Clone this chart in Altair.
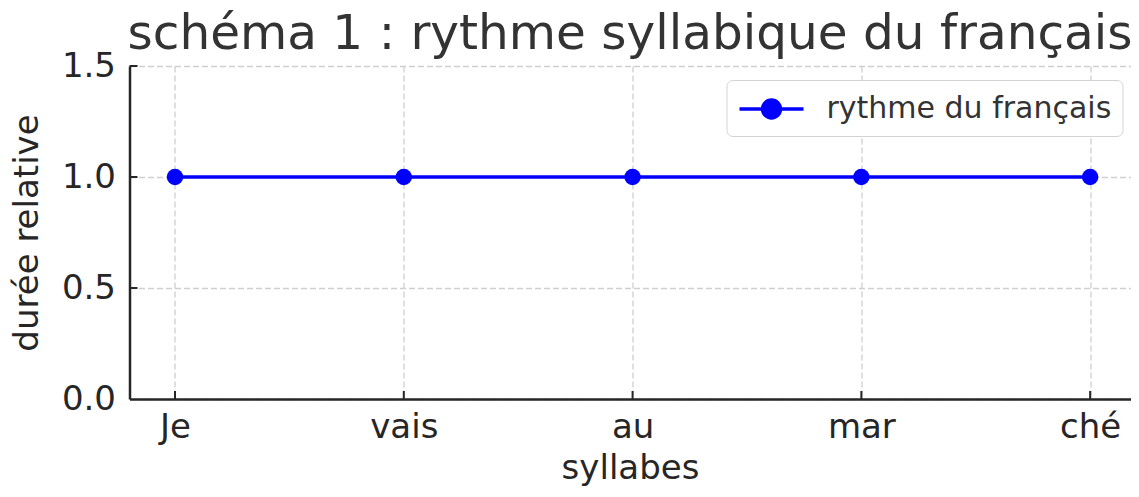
import altair as alt
import pandas as pd

syllabes = ["Je", "vais", "au", "mar", "ché"]
durees = [1.0, 1.0, 1.0, 1.0, 1.0]
serie = "rythme du français"
y_ticks = [0.0, 0.5, 1.0, 1.5]

df = pd.DataFrame({"syllabe": syllabes, "duree": durees, "serie": [serie] * len(syllabes)})
ticks_x = pd.DataFrame({"syllabe": syllabes})
ticks_y = pd.DataFrame({"v": y_ticks[1:]})

FONT = "DejaVu Sans"
W, H = 1001, 333

xscale = alt.Scale(type="point", domain=syllabes, padding=0.1876, align=0.53)
yscale = alt.Scale(domain=[0, 1.5], nice=False, zero=True)
cscale = alt.Scale(domain=[serie], range=["#0000ff"])

x_enc = alt.X("syllabe:N", sort=syllabes, scale=xscale,
              axis=alt.Axis(title="syllabes", labelAngle=0, labelPadding=11,
                            titlePadding=7, ticks=False, tickSize=0))
y_enc = alt.Y("duree:Q", scale=yscale,
              axis=alt.Axis(title="durée relative", values=y_ticks, format=".1f",
                            labelPadding=14, titlePadding=17, ticks=False, tickSize=0))

legend = alt.Legend(title=None, orient="none", legendX=597, legendY=14,
                    symbolType="M-1,0H3M0.44,0A0.56,0.56,0,1,1,1.56,0A0.56,0.56,0,1,1,0.44,0Z",
                    symbolSize=1024, symbolStrokeWidth=3.5, symbolFillColor="#0000ff",
                    symbolStrokeColor="#0000ff", labelFontSize=30, labelFont=FONT,
                    labelColor="#333333", labelOffset=53, labelLimit=0, padding=11,
                    strokeColor="#d3d3d3", fillColor="white", cornerRadius=6)

line = alt.Chart(df).mark_line(strokeWidth=3.5).encode(
    x=x_enc, y=y_enc, color=alt.Color("serie:N", scale=cscale, legend=legend))
points = alt.Chart(df).mark_point(filled=True, size=270, opacity=1).encode(
    x=alt.X("syllabe:N", sort=syllabes, scale=xscale),
    y=alt.Y("duree:Q", scale=yscale),
    color=alt.Color("serie:N", scale=cscale, legend=None))

tx = alt.Chart(ticks_x).mark_rule(color="#262626", strokeWidth=2).encode(
    x=alt.X("syllabe:N", sort=syllabes, scale=xscale),
    y=alt.value(H), y2=alt.value(H - 8))
ty = alt.Chart(ticks_y).mark_rule(color="#262626", strokeWidth=2).encode(
    y=alt.Y("v:Q", scale=yscale), x=alt.value(0), x2=alt.value(8))

chart = alt.layer(line, tx, ty, points).properties(
    width=W, height=H,
    background="white",
    autosize=alt.AutoSizeParams(type="none"),
    padding={"left": 121.5, "top": 58, "right": 0, "bottom": 89},
    title=alt.Title("schéma 1 : rythme syllabique du français", fontSize=48.5, font=FONT,
                    fontWeight="normal", color="#333333", anchor="middle",
                    offset=-10, frame="group"),
).configure_view(stroke=None).configure_axis(
    labelFont=FONT, titleFont=FONT, labelFontSize=34, titleFontSize=34,
    labelColor="#262626", titleColor="#262626", titleFontWeight="normal",
    domainColor="#262626", domainWidth=2.5,
    grid=True, gridColor="#cfcfcf", gridDash=[6, 3], gridWidth=1.3,
)

chart.save("out.html", embed_options={"renderer": "svg", "actions": False})
